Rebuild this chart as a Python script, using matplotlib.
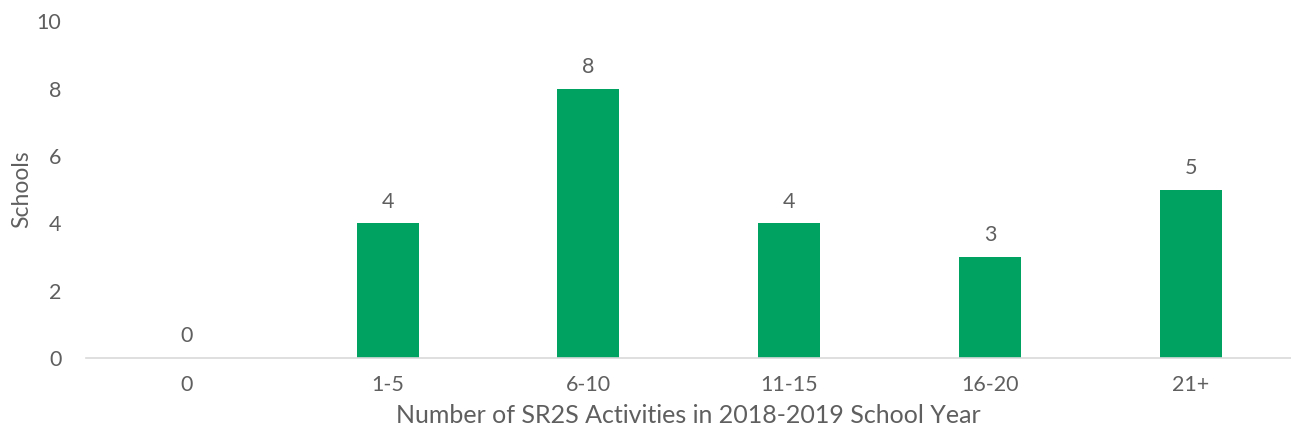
import matplotlib
matplotlib.use("Agg")
import matplotlib.pyplot as plt

categories = ["0", "1-5", "6-10", "11-15", "16-20", "21+"]
schools = [0, 4, 8, 4, 3, 5]

BAR_COLOR = "#00A262"
TEXT_COLOR = "#5f5f5f"

plt.rcParams["font.family"] = ["Lato", "DejaVu Sans"]

fig = plt.figure(figsize=(12.91, 4.41), dpi=100)
ax = fig.add_axes([0.067, 0.188, 0.933, 0.764])

x = range(len(categories))
bars = ax.bar(x, schools, width=0.31, color=BAR_COLOR, zorder=2)
for xi, v in zip(x, schools):
    ax.text(xi, v + 0.35, str(v), ha="center", va="bottom",
            fontsize=15.5, color=TEXT_COLOR)

ax.set_xlim(-0.5, len(categories) - 0.5)
ax.set_ylim(0, 10)
ax.set_yticks(range(0, 11, 2))
ax.set_xticks(list(x))
ax.set_xticklabels(categories)

for side in ["top", "right", "left"]:
    ax.spines[side].set_visible(False)
ax.spines["bottom"].set_color("#D9D9D9")
ax.spines["bottom"].set_linewidth(1.2)
ax.tick_params(axis="both", length=0, labelsize=15.5, labelcolor=TEXT_COLOR)
ax.tick_params(axis="y", pad=18)
ax.tick_params(axis="x", pad=12)

ax.set_xlabel("Number of SR2S Activities in 2018-2019 School Year",
              fontsize=18, color=TEXT_COLOR, labelpad=7)
ax.set_ylabel("Schools", fontsize=16.5, color=TEXT_COLOR, labelpad=3)

fig.savefig("out.png", dpi=100)
